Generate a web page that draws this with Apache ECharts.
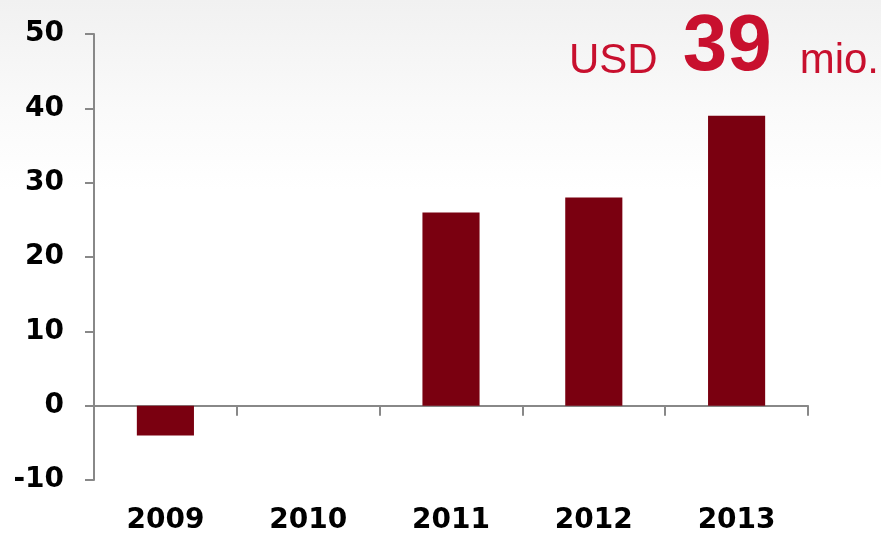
<!DOCTYPE html>
<html>
<head>
<meta charset="utf-8">
<script src="https://cdn.jsdelivr.net/npm/echarts@6/dist/echarts.min.js"></script>
<style>
  html, body { margin: 0; padding: 0; }
  #chart { width: 881px; height: 534px; background: linear-gradient(to bottom, #f1f1f1 0px, #fafafa 110px, #ffffff 190px); }
</style>
</head>
<body>
<div id="chart"></div>
<script>
const categories = ['2009', '2010', '2011', '2012', '2013'];
const values = [-4, 0, 26, 28, 39];
const yTicks = { min: -10, max: 50, interval: 10 };
const headline = { prefix: 'USD', value: '39', suffix: 'mio.' };

const chart = echarts.init(document.getElementById('chart'), null, { renderer: 'canvas' });
chart.setOption({
  backgroundColor: 'transparent',
  animation: false,
  title: {
    text: '{a|' + headline.prefix + '}{b|' + headline.value + '}{a|' + headline.suffix + '}',
    right: 2,
    top: 8,
    padding: 0,
    textStyle: {
      fontWeight: 'normal',
      rich: {
        a: { fontFamily: 'Liberation Sans, Arial, sans-serif', fontSize: 42, fontWeight: 'normal', color: '#c8102e', verticalAlign: 'bottom', lineHeight: 80, padding: [0, 0, 6, 0] },
        b: { fontFamily: 'Liberation Sans, Arial, sans-serif', fontSize: 80, fontWeight: 'bold', color: '#c8102e', padding: [0, 28, 0, 25], verticalAlign: 'bottom', lineHeight: 80 }
      }
    }
  },
  grid: { left: 94, right: 73, top: 34, bottom: 54, containLabel: false, outerBoundsMode: 'none' },
  xAxis: {
    type: 'category',
    data: categories,
    axisLine: { onZero: true, lineStyle: { color: '#888888', width: 2 } },
    axisTick: { show: true, length: 10, lineStyle: { color: '#888888', width: 2 } },
    axisLabel: { margin: 27, fontFamily: 'DejaVu Sans', fontWeight: 'bold', fontSize: 28, color: '#000' },
    splitLine: { show: false }
  },
  yAxis: {
    type: 'value',
    min: yTicks.min, max: yTicks.max, interval: yTicks.interval,
    axisLine: { show: true, lineStyle: { color: '#888888', width: 2 } },
    axisTick: { show: true, length: 9, lineStyle: { color: '#888888', width: 2 } },
    axisLabel: { margin: 30, fontFamily: 'DejaVu Sans', fontWeight: 'bold', fontSize: 28, color: '#000' },
    splitLine: { show: false }
  },
  series: [{
    type: 'bar',
    data: values,
    barWidth: '40%',
    itemStyle: { color: '#7a0010' }
  }]
});
</script>
</body>
</html>
